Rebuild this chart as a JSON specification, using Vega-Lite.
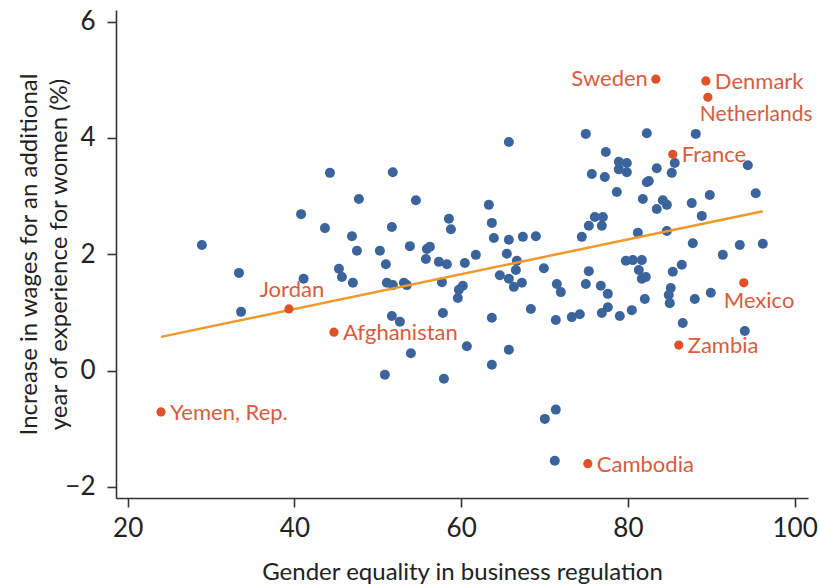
{
  "$schema": "https://vega.github.io/schema/vega-lite/v6.json",
  "width": 692,
  "height": 488,
  "autosize": {"type": "none"},
  "padding": {"left": 116, "top": 10, "right": 12, "bottom": 88},
  "background": "white",
  "config": {
    "view": {"stroke": null},
    "font": "Lato",
    "axis": {
      "grid": false,
      "domainColor": "#333333",
      "domainWidth": 1.6,
      "tickColor": "#333333",
      "tickWidth": 1.6,
      "tickSize": 9,
      "labelFont": "Lato",
      "labelFontSize": 26,
      "labelColor": "#222222",
      "titleFont": "Lato",
      "titleFontSize": 24,
      "titleFontWeight": "normal",
      "titleColor": "#222222"
    }
  },
  "datasets": {
    "others": [
      {"gender": 28.9, "wage": 2.16}, {"gender": 33.35, "wage": 1.68}, {"gender": 33.6, "wage": 1.01},
      {"gender": 40.8, "wage": 2.69}, {"gender": 41.1, "wage": 1.58}, {"gender": 44.26, "wage": 3.40},
      {"gender": 51.8, "wage": 3.41}, {"gender": 47.73, "wage": 2.95}, {"gender": 54.57, "wage": 2.93},
      {"gender": 43.66, "wage": 2.45}, {"gender": 51.69, "wage": 2.47}, {"gender": 58.53, "wage": 2.61},
      {"gender": 58.77, "wage": 2.43}, {"gender": 46.9, "wage": 2.31}, {"gender": 47.5, "wage": 2.06},
      {"gender": 50.25, "wage": 2.06}, {"gender": 53.85, "wage": 2.14}, {"gender": 55.89, "wage": 2.09},
      {"gender": 56.25, "wage": 2.13}, {"gender": 55.77, "wage": 1.92}, {"gender": 57.33, "wage": 1.87},
      {"gender": 58.29, "wage": 1.83}, {"gender": 60.44, "wage": 1.85}, {"gender": 61.76, "wage": 1.99},
      {"gender": 50.97, "wage": 1.83}, {"gender": 45.34, "wage": 1.75}, {"gender": 45.7, "wage": 1.61},
      {"gender": 47.01, "wage": 1.51}, {"gender": 51.09, "wage": 1.51}, {"gender": 51.81, "wage": 1.47},
      {"gender": 53.13, "wage": 1.51}, {"gender": 53.49, "wage": 1.47}, {"gender": 57.69, "wage": 1.52},
      {"gender": 60.2, "wage": 1.46}, {"gender": 59.72, "wage": 1.39}, {"gender": 59.6, "wage": 1.25},
      {"gender": 51.69, "wage": 0.94}, {"gender": 52.65, "wage": 0.84}, {"gender": 57.81, "wage": 0.99},
      {"gender": 53.97, "wage": 0.30}, {"gender": 60.68, "wage": 0.42}, {"gender": 50.85, "wage": -0.07},
      {"gender": 57.93, "wage": -0.14}, {"gender": 65.72, "wage": 3.93}, {"gender": 74.95, "wage": 4.07},
      {"gender": 82.27, "wage": 4.08}, {"gender": 77.35, "wage": 3.76}, {"gender": 78.91, "wage": 3.59},
      {"gender": 79.87, "wage": 3.57}, {"gender": 78.91, "wage": 3.46}, {"gender": 79.87, "wage": 3.41},
      {"gender": 75.67, "wage": 3.38}, {"gender": 77.23, "wage": 3.33}, {"gender": 78.67, "wage": 3.07},
      {"gender": 82.27, "wage": 3.24}, {"gender": 81.79, "wage": 2.95}, {"gender": 63.32, "wage": 2.85},
      {"gender": 63.68, "wage": 2.54}, {"gender": 63.92, "wage": 2.28}, {"gender": 65.72, "wage": 2.25},
      {"gender": 67.4, "wage": 2.30}, {"gender": 68.96, "wage": 2.31}, {"gender": 65.48, "wage": 2.01},
      {"gender": 66.68, "wage": 1.89}, {"gender": 66.56, "wage": 1.73}, {"gender": 64.64, "wage": 1.64},
      {"gender": 65.72, "wage": 1.58}, {"gender": 66.32, "wage": 1.44}, {"gender": 67.28, "wage": 1.51},
      {"gender": 69.92, "wage": 1.76}, {"gender": 74.47, "wage": 2.30}, {"gender": 75.31, "wage": 2.49},
      {"gender": 76.03, "wage": 2.64}, {"gender": 77.0, "wage": 2.64}, {"gender": 76.87, "wage": 2.49},
      {"gender": 81.19, "wage": 2.37}, {"gender": 75.31, "wage": 1.71}, {"gender": 74.95, "wage": 1.49},
      {"gender": 71.47, "wage": 1.49}, {"gender": 71.95, "wage": 1.35}, {"gender": 76.75, "wage": 1.46},
      {"gender": 77.59, "wage": 1.32}, {"gender": 79.75, "wage": 1.89}, {"gender": 80.59, "wage": 1.90},
      {"gender": 81.67, "wage": 1.90}, {"gender": 81.31, "wage": 1.73}, {"gender": 81.67, "wage": 1.58},
      {"gender": 82.03, "wage": 1.23}, {"gender": 68.36, "wage": 1.06}, {"gender": 71.35, "wage": 0.87},
      {"gender": 73.27, "wage": 0.92}, {"gender": 74.23, "wage": 0.97}, {"gender": 76.87, "wage": 0.99},
      {"gender": 77.59, "wage": 1.09}, {"gender": 79.03, "wage": 0.94}, {"gender": 80.47, "wage": 1.04},
      {"gender": 63.68, "wage": 0.91}, {"gender": 65.72, "wage": 0.36}, {"gender": 63.68, "wage": 0.10},
      {"gender": 88.14, "wage": 4.07}, {"gender": 85.62, "wage": 3.57}, {"gender": 83.46, "wage": 3.48},
      {"gender": 85.26, "wage": 3.40}, {"gender": 94.38, "wage": 3.53}, {"gender": 82.51, "wage": 3.26},
      {"gender": 84.19, "wage": 2.93}, {"gender": 84.67, "wage": 2.85}, {"gender": 83.46, "wage": 2.78},
      {"gender": 87.66, "wage": 2.88}, {"gender": 89.82, "wage": 3.02}, {"gender": 95.33, "wage": 3.05},
      {"gender": 88.86, "wage": 2.66}, {"gender": 84.67, "wage": 2.40}, {"gender": 87.78, "wage": 2.19},
      {"gender": 91.38, "wage": 1.99}, {"gender": 93.42, "wage": 2.16}, {"gender": 96.18, "wage": 2.18},
      {"gender": 82.15, "wage": 1.61}, {"gender": 85.38, "wage": 1.70}, {"gender": 86.46, "wage": 1.82},
      {"gender": 85.14, "wage": 1.42}, {"gender": 84.9, "wage": 1.30}, {"gender": 85.02, "wage": 1.16},
      {"gender": 88.02, "wage": 1.23}, {"gender": 89.94, "wage": 1.34}, {"gender": 86.58, "wage": 0.82},
      {"gender": 94.02, "wage": 0.68}, {"gender": 70.04, "wage": -0.83}, {"gender": 71.35, "wage": -0.67},
      {"gender": 71.23, "wage": -1.55}
    ],
    "highlighted": [
      {"country": "Sweden", "gender": 83.35, "wage": 5.01},
      {"country": "Denmark", "gender": 89.35, "wage": 4.98},
      {"country": "Netherlands", "gender": 89.59, "wage": 4.70},
      {"country": "France", "gender": 85.38, "wage": 3.72},
      {"country": "Mexico", "gender": 93.9, "wage": 1.51},
      {"country": "Zambia", "gender": 86.1, "wage": 0.44},
      {"country": "Jordan", "gender": 39.34, "wage": 1.06},
      {"country": "Afghanistan", "gender": 44.74, "wage": 0.66},
      {"country": "Yemen, Rep.", "gender": 24.0, "wage": -0.71},
      {"country": "Cambodia", "gender": 75.19, "wage": -1.60}
    ],
    "fit": [
      {"gender": 24.0, "wage": 0.58},
      {"gender": 96.18, "wage": 2.74}
    ]
  },
  "encoding": {
    "x": {
      "field": "gender", "type": "quantitative",
      "scale": {"domain": [18.6, 101.6], "nice": false, "zero": false},
      "axis": {"values": [20, 40, 60, 80, 100], "title": "Gender equality in business regulation", "labelPadding": 8, "titlePadding": 19}
    },
    "y": {
      "field": "wage", "type": "quantitative",
      "scale": {"domain": [-2.19, 6.2], "nice": false, "zero": false},
      "axis": {"values": [-2, 0, 2, 4, 6], "title": ["Increase in wages for an additional", "year of experience for women (%)"], "labelPadding": 12, "titleX": -75, "titleLineHeight": 30}
    }
  },
  "layer": [
    {
      "data": {"values": [{"zero": 0}]},
      "mark": {"type": "rule", "color": "#555555", "strokeWidth": 1.4, "strokeDash": [1.4, 5.3]},
      "encoding": {"y": {"field": "zero", "type": "quantitative"}, "x": {"datum": 18.6}, "x2": {"datum": 100.5}}
    },
    {
      "data": {"name": "others"},
      "mark": {"type": "circle", "color": "#3b649c", "opacity": 1, "size": 100}
    },
    {
      "data": {"name": "fit"},
      "mark": {"type": "line", "color": "#f0982a", "strokeWidth": 2.5}
    },
    {
      "data": {"name": "highlighted"},
      "mark": {"type": "circle", "color": "#df5128", "opacity": 1, "size": 85}
    },
    {
      "data": {"name": "highlighted"},
      "transform": [{"filter": {"field": "country", "oneOf": ["Denmark", "France", "Zambia", "Afghanistan", "Yemen, Rep.", "Cambodia"]}}],
      "mark": {"type": "text", "align": "left", "baseline": "middle", "dx": 9, "dy": 1, "fontSize": 22, "color": "#d65d3e", "font": "Lato"},
      "encoding": {"text": {"field": "country"}}
    },
    {
      "data": {"name": "highlighted"},
      "transform": [{"filter": {"field": "country", "equal": "Sweden"}}],
      "mark": {"type": "text", "align": "right", "baseline": "middle", "dx": -8, "dy": 0, "fontSize": 22, "color": "#d65d3e", "font": "Lato"},
      "encoding": {"text": {"field": "country"}}
    },
    {
      "data": {"name": "highlighted"},
      "transform": [{"filter": {"field": "country", "equal": "Netherlands"}}],
      "mark": {"type": "text", "align": "left", "baseline": "middle", "dx": -8, "dy": 18, "fontSize": 21, "color": "#d65d3e", "font": "Lato"},
      "encoding": {"text": {"field": "country"}}
    },
    {
      "data": {"name": "highlighted"},
      "transform": [{"filter": {"field": "country", "equal": "Mexico"}}],
      "mark": {"type": "text", "align": "left", "baseline": "middle", "dx": -20, "dy": 18, "fontSize": 22, "color": "#d65d3e", "font": "Lato"},
      "encoding": {"text": {"field": "country"}}
    },
    {
      "data": {"name": "highlighted"},
      "transform": [{"filter": {"field": "country", "equal": "Jordan"}}],
      "mark": {"type": "text", "align": "center", "baseline": "middle", "dx": 3, "dy": -19, "fontSize": 22, "color": "#d65d3e", "font": "Lato"},
      "encoding": {"text": {"field": "country"}}
    }
  ]
}
